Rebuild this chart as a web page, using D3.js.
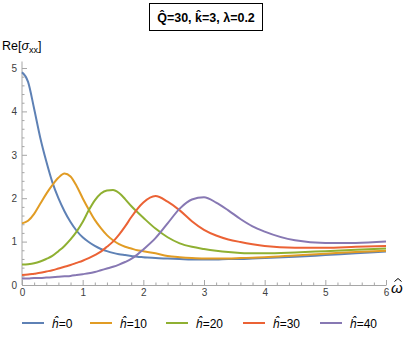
<!DOCTYPE html>
<html>
<head>
<meta charset="utf-8">
<script src="https://cdn.jsdelivr.net/npm/d3@7"></script>
<style>
  body { margin: 0; background: #fff; }
  svg { display: block; font-family: "Liberation Sans", Arial, sans-serif; }
</style>
</head>
<body>
<svg id="chart"></svg>
<script>
// frequency grid (omega hat)
const omega = [0, 0.1, 0.2, 0.3, 0.4, 0.5, 0.6, 0.7, 0.8, 0.9, 1.0, 1.1, 1.2, 1.3, 1.4, 1.5, 1.6, 1.7, 1.8, 1.9,
               2.0, 2.2, 2.4, 2.6, 2.8, 3.0, 3.2, 3.4, 3.6, 3.8, 4.0, 4.5, 5.0, 5.5, 6.0];

const h0  = [4.90, 4.68, 4.06, 3.40, 2.85, 2.37, 2.00, 1.70, 1.45, 1.25, 1.10, 0.99, 0.90, 0.83, 0.78, 0.74, 0.71, 0.69, 0.67, 0.65,
             0.64, 0.62, 0.61, 0.60, 0.59, 0.59, 0.59, 0.60, 0.60, 0.61, 0.62, 0.65, 0.69, 0.73, 0.77];
const h10 = [1.42, 1.48, 1.64, 1.87, 2.10, 2.30, 2.47, 2.57, 2.50, 2.28, 2.00, 1.74, 1.50, 1.31, 1.15, 1.03, 0.94, 0.88, 0.84, 0.80,
             0.78, 0.73, 0.67, 0.64, 0.62, 0.61, 0.61, 0.61, 0.62, 0.63, 0.64, 0.68, 0.72, 0.76, 0.79];
const h20 = [0.47, 0.48, 0.50, 0.54, 0.60, 0.67, 0.78, 0.90, 1.05, 1.23, 1.45, 1.72, 1.95, 2.11, 2.18, 2.19, 2.12, 1.98, 1.82, 1.68,
             1.55, 1.30, 1.10, 0.96, 0.88, 0.83, 0.79, 0.76, 0.74, 0.73, 0.73, 0.75, 0.78, 0.81, 0.84];
const h30 = [0.23, 0.24, 0.26, 0.28, 0.31, 0.34, 0.38, 0.42, 0.46, 0.51, 0.56, 0.62, 0.69, 0.77, 0.88, 1.00, 1.16, 1.35, 1.56, 1.75,
             1.90, 2.05, 1.92, 1.72, 1.47, 1.27, 1.14, 1.05, 0.99, 0.94, 0.90, 0.86, 0.86, 0.88, 0.90];
const h40 = [0.15, 0.15, 0.16, 0.16, 0.17, 0.18, 0.19, 0.20, 0.21, 0.23, 0.25, 0.27, 0.30, 0.34, 0.38, 0.42, 0.47, 0.53, 0.60, 0.70,
             0.82, 1.08, 1.42, 1.76, 1.97, 2.02, 1.90, 1.72, 1.52, 1.35, 1.23, 1.03, 0.97, 0.97, 1.00];

const seriesLabels = ["0", "10", "20", "30", "40"];
const seriesValues = [h0, h10, h20, h30, h40];
const seriesColors = ["#5e81b5", "#e19c24", "#8fb032", "#eb6235", "#8778b3"];

const xTicks = [0, 1, 2, 3, 4, 5, 6];
const yTicks = [0, 1, 2, 3, 4, 5];

const width = 407, height = 340;
const svg = d3.select("#chart").attr("width", width).attr("height", height);

const x = d3.scaleLinear().domain([0, 6]).range([22, 386]);
const y = d3.scaleLinear().domain([0, 5]).range([285, 68]);
const yTop = 5.15;

const axisColor = "#a6a6a6";
const labelColor = "#404040";

// minor ticks
const xMinor = d3.range(0, 6.001, 0.2).filter(v => Math.abs(v - Math.round(v)) > 1e-6);
const yMinor = d3.range(0, yTop, 0.2).filter(v => Math.abs(v - Math.round(v)) > 1e-6);

const gx = svg.append("g").attr("transform", `translate(0,${y(0)})`);
gx.call(d3.axisBottom(x).tickValues(xMinor).tickSizeInner(-2.5).tickSizeOuter(0).tickFormat(""));
gx.call(g => g.select(".domain").remove());
const gx2 = svg.append("g").attr("transform", `translate(0,${y(0)})`);
gx2.call(d3.axisBottom(x).tickValues(xTicks).tickSizeInner(-5).tickSizeOuter(0).tickPadding(4).tickFormat(d3.format("d")));

const gy = svg.append("g").attr("transform", `translate(${x(0)},0)`);
gy.call(d3.axisLeft(y).tickValues(yMinor).tickSizeInner(-2.5).tickSizeOuter(0).tickFormat(""));
gy.call(g => g.select(".domain").remove());
const gy2 = svg.append("g").attr("transform", `translate(${x(0)},0)`);
gy2.call(d3.axisLeft(y).tickValues(yTicks).tickSizeInner(-5).tickSizeOuter(0).tickPadding(5).tickFormat(d3.format("d")));
gy2.select(".domain").attr("d", `M0,${y(0)}V${y(yTop)}`);

svg.selectAll(".tick line, .domain").attr("stroke", axisColor).attr("stroke-width", 1);
svg.selectAll(".tick text").attr("fill", labelColor).attr("font-size", 10)
  .attr("font-family", "'Liberation Sans', Arial, sans-serif");

// curves
const line = d3.line()
  .x((d, i) => x(omega[i]))
  .y(d => y(d))
  .curve(d3.curveMonotoneX);

svg.append("g").selectAll("path")
  .data(seriesValues)
  .enter().append("path")
    .attr("d", line)
    .attr("fill", "none")
    .attr("stroke", (d, i) => seriesColors[i])
    .attr("stroke-width", 2);

// axis labels
const yl = svg.append("text").attr("x", 2).attr("y", 50).attr("font-size", 12.5).attr("fill", "#000");
yl.append("tspan").text("Re[");
yl.append("tspan").attr("font-style", "italic").text("σ");
yl.append("tspan").attr("font-size", 9).attr("dy", 3).text("xx");
yl.append("tspan").attr("dy", -3).text("]");

// omega with a drawn hat
svg.append("text").attr("x", 391).attr("y", 293).attr("font-size", 15)
  .attr("font-style", "italic").attr("fill", "#000").text("ω");
svg.append("path").attr("d", "M394.5,281.5L398,278.5L401.5,281.5")
  .attr("fill", "none").attr("stroke", "#000").attr("stroke-width", 1);

// title box
svg.append("rect").attr("x", 149.5).attr("y", 3.5).attr("width", 113).attr("height", 27)
  .attr("fill", "#fff").attr("stroke", "#000").attr("stroke-width", 1);
svg.append("text").attr("x", 206).attr("y", 22).attr("text-anchor", "middle")
  .attr("font-size", 12.5).attr("font-weight", "bold").attr("fill", "#000")
  .text("Q\u0302=30, k\u0302=3, λ=0.2");

// legend
const legendX = [22, 90, 166, 243, 320];
const lg = svg.append("g").selectAll("g")
  .data(seriesLabels)
  .enter().append("g")
    .attr("transform", (d, i) => `translate(${legendX[i]},323)`);
lg.append("line").attr("x1", 0).attr("x2", 22).attr("y1", 0).attr("y2", 0)
  .attr("stroke", (d, i) => seriesColors[i]).attr("stroke-width", 2);
const lt = lg.append("text").attr("x", 30).attr("y", 4.5).attr("font-size", 12).attr("fill", "#000");
lt.append("tspan").attr("font-style", "italic").text("ĥ");
lt.append("tspan").text(d => "=" + d);
</script>
</body>
</html>
